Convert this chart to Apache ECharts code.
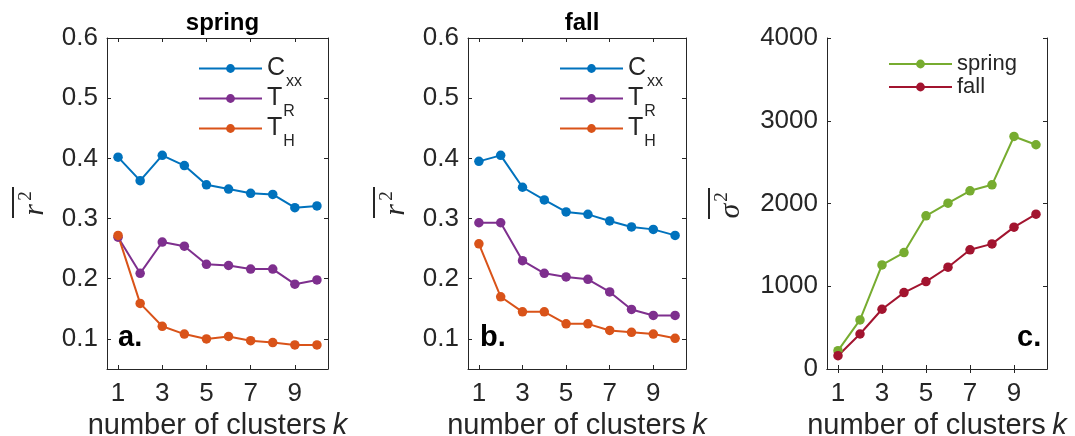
<!DOCTYPE html>
<html><head><meta charset="utf-8">
<script src="https://cdn.jsdelivr.net/npm/echarts@6/dist/echarts.min.js"></script>
<style>html,body{margin:0;padding:0;background:#fff}#c{width:1075px;height:436px}</style>
</head><body><div id="c"></div>
<script>
// ---- data ----
const clusters = [1, 2, 3, 4, 5, 6, 7, 8, 9, 10];
const springCxx = [0.402, 0.363, 0.405, 0.388, 0.356, 0.349, 0.342, 0.340, 0.318, 0.321];
const springTR  = [0.269, 0.209, 0.261, 0.254, 0.224, 0.222, 0.216, 0.216, 0.191, 0.198];
const springTH  = [0.272, 0.159, 0.121, 0.108, 0.100, 0.104, 0.097, 0.094, 0.090, 0.090];
const fallCxx   = [0.395, 0.405, 0.352, 0.331, 0.311, 0.307, 0.296, 0.286, 0.282, 0.272];
const fallTR    = [0.293, 0.293, 0.230, 0.209, 0.203, 0.199, 0.178, 0.149, 0.139, 0.139];
const fallTH    = [0.258, 0.170, 0.145, 0.145, 0.125, 0.125, 0.114, 0.111, 0.108, 0.101];
const sigmaSpring = [222, 593, 1258, 1407, 1851, 2004, 2153, 2226, 2810, 2710];
const sigmaFall   = [161, 423, 722, 923, 1056, 1230, 1440, 1512, 1714, 1871];
const xTicks = [1, 3, 5, 7, 9];
const rTicks = [0.1, 0.2, 0.3, 0.4, 0.5, 0.6];
const sTicks = [0, 1000, 2000, 3000, 4000];
const panelTitles = ['spring', 'fall'];
const panelTags = ['a.', 'b.', 'c.'];

// ---- style ----
const F = '"Liberation Sans", Arial, Helvetica, sans-serif';
const SERIF = '"Liberation Serif", "DejaVu Serif", serif';
const ink = '#262626';
const C = {cxx: '#0072BD', tr: '#7E2F8E', th: '#D95319', spring: '#77AC30', fall: '#A2142F'};

const grids = [
  {left: 107, top: 38, width: 221, height: 331, outerBoundsMode: 'none', containLabel: false},
  {left: 468, top: 38, width: 218, height: 331, outerBoundsMode: 'none', containLabel: false},
  {left: 827, top: 38, width: 220, height: 331, outerBoundsMode: 'none', containLabel: false}
];

const pair = (ys) => clusters.map((x, i) => [x, ys[i]]);

const xAxes = [], yAxes = [];
grids.forEach((g, i) => {
  xAxes.push({
    type: 'value', gridIndex: i, position: 'bottom', min: 0.5, max: 10.5,
    axisLine: {show: true, lineStyle: {color: ink, width: 1}},
    axisTick: {show: true, inside: true, length: 4, customValues: xTicks, lineStyle: {color: ink}},
    axisLabel: {customValues: xTicks, fontSize: 26, color: ink, fontFamily: F, margin: 12},
    splitLine: {show: false},
    name: '{n|number of clusters}  {k|k}', nameLocation: 'middle', nameGap: 33,
    nameTextStyle: {rich: {
      n: {fontSize: 29, color: ink, fontFamily: F},
      k: {fontSize: 29, color: ink, fontFamily: F, fontStyle: 'italic'}
    }}
  });
  xAxes.push({
    type: 'value', gridIndex: i, position: 'top', min: 0.5, max: 10.5,
    axisLine: {show: true, lineStyle: {color: ink, width: 1}},
    axisTick: {show: true, inside: true, length: 4, customValues: xTicks, lineStyle: {color: ink}},
    axisLabel: {show: false}, splitLine: {show: false}
  });
  const isS = i === 2;
  const ticks = isS ? sTicks : rTicks;
  const base = {
    type: 'value', gridIndex: i, min: isS ? 0 : 0.05, max: isS ? 4000 : 0.6,
    axisLine: {show: true, lineStyle: {color: ink, width: 1}},
    axisTick: {show: true, inside: true, length: 4, customValues: ticks, lineStyle: {color: ink}},
    splitLine: {show: false}
  };
  yAxes.push(Object.assign({}, base, {
    position: 'left',
    axisLabel: {customValues: ticks, fontSize: 26, color: ink, fontFamily: F, margin: 9,
      formatter: v => isS ? String(Math.round(v)) : v.toFixed(1)}
  }));
  yAxes.push(Object.assign({}, base, {position: 'right', axisLabel: {show: false}}));
});

function line(name, data, color, gi) {
  return {
    type: 'line', name, data: pair(data), xAxisIndex: gi * 2, yAxisIndex: gi * 2,
    symbol: 'circle', symbolSize: 9.5, showSymbol: true,
    lineStyle: {color, width: 2}, itemStyle: {color},
    emphasis: {disabled: true}, animation: false, z: 3
  };
}

const series = [
  line('Cxx', springCxx, C.cxx, 0), line('TR', springTR, C.tr, 0), line('TH', springTH, C.th, 0),
  line('Cxx', fallCxx, C.cxx, 1), line('TR', fallTR, C.tr, 1), line('TH', fallTH, C.th, 1),
  line('spring', sigmaSpring, C.spring, 2), line('fall', sigmaFall, C.fall, 2)
];

const subRich = {
  m: {fontSize: 25, color: ink, fontFamily: F, verticalAlign: 'top', lineHeight: 25},
  s: {fontSize: 16, color: ink, fontFamily: F, verticalAlign: 'top', padding: [18, 0, 0, 1], lineHeight: 16}
};
const subFmt = n => n === 'Cxx' ? '{m|C}{s|xx}' : n === 'TR' ? '{m|T}{s|R}' : '{m|T}{s|H}';

const legends = [
  {left: 198, top: 56, data: ['Cxx', 'TR', 'TH']},
  {left: 559, top: 56, data: ['Cxx', 'TR', 'TH']}
].map(l => Object.assign({
  orient: 'vertical', itemWidth: 63, itemHeight: 11, itemGap: -4, selectedMode: false, padding: 0,
  formatter: subFmt, textStyle: {rich: subRich}
}, l));
legends.push({
  left: 888, top: 53, data: ['spring', 'fall'], orient: 'vertical', padding: 0,
  itemWidth: 63, itemHeight: 11, itemGap: 1, selectedMode: false,
  textStyle: {fontSize: 22, color: ink, fontFamily: F, lineHeight: 22}
});

const titles = panelTitles.map((t, i) => ({
  text: t, left: grids[i].left + grids[i].width / 2, top: 6, textAlign: 'center',
  textStyle: {fontSize: 24, fontWeight: 'bold', color: '#000', fontFamily: F}
}));

function yLabel(cx, cy, letter) {
  return {
    type: 'group', x: cx, y: cy, rotation: Math.PI / 2,
    children: [
      {type: 'rect', shape: {x: -15, y: -18, width: 31, height: 2}, style: {fill: ink}},
      {type: 'text', x: -7, y: 5, style: {text: letter, font: 'italic 30px ' + SERIF, fill: ink, align: 'center', verticalAlign: 'middle'}},
      {type: 'text', x: 7, y: -4, style: {text: '2', font: '19px ' + SERIF, fill: ink, align: 'center', verticalAlign: 'middle'}}
    ]
  };
}

const tagPos = [[118, 338], [480, 338], [1017, 338]];
const graphic = [
  yLabel(30, 203, 'r'), yLabel(391, 203, 'r'), yLabel(726, 204, 'σ')
].concat(panelTags.map((t, i) => ({
  type: 'text', x: tagPos[i][0], y: tagPos[i][1],
  style: {text: t, font: 'bold 29px ' + F, fill: '#000', verticalAlign: 'middle'}
})));

const chart = echarts.init(document.getElementById('c'), null, {renderer: 'canvas'});
chart.setOption({
  backgroundColor: '#fff', animation: false,
  title: titles, grid: grids, xAxis: xAxes, yAxis: yAxes,
  legend: legends, series, graphic
});
</script></body></html>
